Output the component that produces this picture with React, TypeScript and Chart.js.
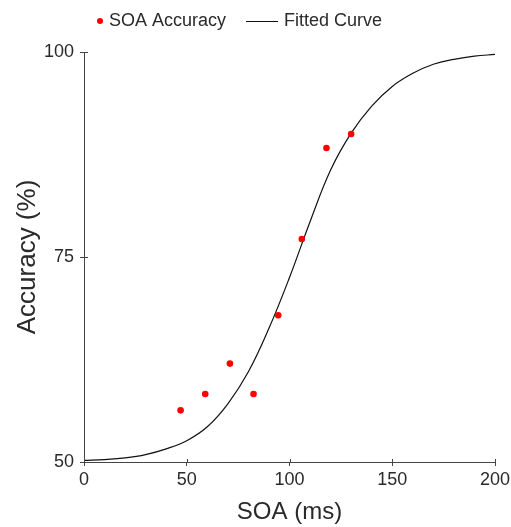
import React, { useEffect, useRef } from "react";
import { Chart, registerables } from "chart.js";

Chart.register(...registerables);

const pointX = [47, 59, 71, 82.5, 94.5, 106, 118, 130];
const pointY = [56.3, 58.3, 62.0, 58.3, 67.9, 77.2, 88.3, 90.0];

const curveX = [0, 10, 20, 30, 40, 50, 60, 70, 80, 90, 100, 110, 120, 130, 140, 150, 160, 170, 180, 190, 200];
const curveY = [50.2, 50.3, 50.5, 50.9, 51.6, 52.6, 54.3, 57.1, 61.0, 66.3, 72.5, 79.3, 85.6, 90.1, 93.4, 95.8, 97.4, 98.5, 99.1, 99.5, 99.7];

const xTicks = [0, 50, 100, 150, 200];
const yTicks = [50, 75, 100];

const seriesNames = ["SOA Accuracy", "Fitted Curve"];
const xTitle = "SOA (ms)";
const yTitle = "Accuracy (%)";

const FONT = "'Liberation Sans', Arial, sans-serif";
const AXIS_COLOR = "#444";
const TEXT_COLOR = "#2a2a2a";

const innerTicks = {
  id: "innerTicks",
  afterDraw(chart: any) {
    const { ctx, chartArea, scales } = chart;
    ctx.save();
    ctx.strokeStyle = AXIS_COLOR;
    ctx.lineWidth = 1;
    ctx.beginPath();
    scales.x.ticks.forEach((t: any) => {
      const px = Math.round(scales.x.getPixelForValue(t.value)) + 0.5;
      ctx.moveTo(px, chartArea.bottom);
      ctx.lineTo(px, chartArea.bottom - 3);
    });
    scales.y.ticks.forEach((t: any) => {
      const py = Math.round(scales.y.getPixelForValue(t.value)) + 0.5;
      ctx.moveTo(chartArea.left, py);
      ctx.lineTo(chartArea.left + 4, py);
    });
    ctx.stroke();
    ctx.restore();
  },
};

const customLegend = {
  id: "customLegend",
  afterDraw(chart: any) {
    const { ctx } = chart;
    const y = 21;
    ctx.save();
    ctx.font = `18px ${FONT}`;
    ctx.textBaseline = "middle";
    ctx.textAlign = "left";
    let x = 100;
    ctx.beginPath();
    ctx.fillStyle = "#ff0000";
    ctx.arc(x, y, 3, 0, Math.PI * 2);
    ctx.fill();
    ctx.fillStyle = TEXT_COLOR;
    ctx.fillText(seriesNames[0], x + 9, y);
    x = x + 9 + ctx.measureText(seriesNames[0]).width + 20;
    ctx.strokeStyle = "#111";
    ctx.lineWidth = 1.2;
    ctx.beginPath();
    ctx.moveTo(x, y + 0.5);
    ctx.lineTo(x + 32, y + 0.5);
    ctx.stroke();
    ctx.fillText(seriesNames[1], x + 38, y);
    ctx.restore();
  },
};

export default function App() {
  const ref = useRef<HTMLCanvasElement | null>(null);
  useEffect(() => {
    if (!ref.current) return;
    const chart = new Chart(ref.current, {
      type: "scatter",
      data: {
        datasets: [
          {
            label: seriesNames[0],
            data: pointX.map((x, i) => ({ x, y: pointY[i] })),
            backgroundColor: "#ff0000",
            borderColor: "#ff0000",
            pointRadius: 3.3,
            pointBorderWidth: 0,
            showLine: false,
          },
          {
            label: seriesNames[1],
            type: "line",
            data: curveX.map((x, i) => ({ x, y: curveY[i] })),
            borderColor: "#111",
            borderWidth: 1.2,
            pointRadius: 0,
            fill: false,
            tension: 0.4,
          } as any,
        ],
      },
      options: {
        animation: false,
        responsive: false,
        maintainAspectRatio: false,
        layout: { padding: { top: 52, left: 12, right: 16, bottom: 0 } },
        plugins: {
          legend: { display: false },
          tooltip: { enabled: false },
        },
        scales: {
          x: {
            type: "linear",
            min: 0,
            max: 200,
            afterBuildTicks: (s: any) => {
              s.ticks = xTicks.map((v) => ({ value: v }));
            },
            afterFit: (s: any) => {
              s.height = 65;
              s.paddingRight = 0;
              s.paddingLeft = 0;
            },
            ticks: {
              color: TEXT_COLOR,
              font: { family: FONT, size: 18 },
              padding: 3,
              maxRotation: 0,
            },
            grid: { drawOnChartArea: false, tickLength: 4, color: AXIS_COLOR },
            border: { color: AXIS_COLOR, width: 1 },
            title: {
              display: true,
              text: xTitle,
              color: TEXT_COLOR,
              font: { family: FONT, size: 24 },
              padding: { top: 0, bottom: 0 },
            },
          },
          y: {
            type: "linear",
            min: 50,
            max: 100,
            afterBuildTicks: (s: any) => {
              s.ticks = yTicks.map((v) => ({ value: v }));
            },
            afterFit: (s: any) => {
              s.width = 72;
              s.paddingTop = 0;
              s.paddingBottom = 0;
            },
            ticks: {
              color: TEXT_COLOR,
              font: { family: FONT, size: 18 },
              padding: 6,
            },
            grid: { drawOnChartArea: false, tickLength: 4, color: AXIS_COLOR },
            border: { color: AXIS_COLOR, width: 1 },
            title: {
              display: true,
              text: yTitle,
              color: TEXT_COLOR,
              font: { family: FONT, size: 26 },
              padding: { top: 0, bottom: 0 },
            },
          },
        },
      },
      plugins: [innerTicks, customLegend],
    });
    return () => chart.destroy();
  }, []);
  return (
    <div style={{ position: "fixed", left: 0, top: 0, width: 511, height: 527, background: "#fff" }}>
      <canvas ref={ref} width={511} height={527} style={{ display: "block", width: 511, height: 527 }} />
    </div>
  );
}
